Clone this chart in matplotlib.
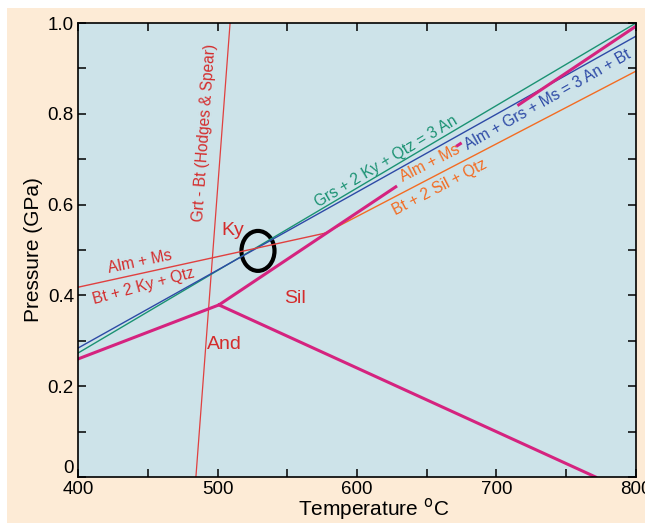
import matplotlib.pyplot as plt
from matplotlib.patches import Ellipse, Rectangle
from matplotlib.ticker import MultipleLocator

plt.rcParams['font.family'] = ['Liberation Sans', 'DejaVu Sans']

# --- Reaction boundaries (T in degC, P in GPa) ---
grt_bt_T = [484.5, 509]
grt_bt_P = [0.0, 1.0]

grs_ky_T = [400, 800]
grs_ky_P = [0.273, 1.0]

alm_grs_T = [400, 800]
alm_grs_P = [0.284, 0.971]

alm_ms_ky_T = [400, 577]
alm_ms_ky_P = [0.418, 0.537]

alm_ms_sil_T = [577, 800]
alm_ms_sil_P = [0.537, 0.894]

# Al2SiO5 triple point diagram
and_ky_T = [400, 501]
and_ky_P = [0.260, 0.379]

and_sil_T = [501, 771]
and_sil_P = [0.379, 0.0]

# Ky-Sil line is broken where the labels sit on it
ky_sil_T = [[501, 628.7], [671, 675], [715, 800]]
ky_sil_P = [[0.379, 0.641], [0.728, 0.736], [0.818, 0.993]]

x_ticks = [400, 500, 600, 700, 800]
y_ticks = [0, 0.2, 0.4, 0.6, 0.8, 1.0]
y_tick_labels = ['0', '0.2', '0.4', '0.6', '0.8', '1.0']

peach = '#fdebd6'
water = '#cde3e9'
red = '#e0403f'
red_txt = '#d42c2c'
green = '#1b9273'
blue = '#2d4aa6'
orange = '#f36c22'
magenta = '#d5237f'

fig = plt.figure(figsize=(6.45, 5.23), dpi=100, facecolor='white')
fig.patches.append(Rectangle((0.011, 0), 0.989, 0.985, transform=fig.transFigure,
                             facecolor=peach, edgecolor='none', zorder=-1))
ax = fig.add_axes([0.121, 0.088, 0.865, 0.868])
ax.set_facecolor(water)

ax.plot(grt_bt_T, grt_bt_P, color=red, lw=0.9)
ax.plot(grs_ky_T, grs_ky_P, color=green, lw=1.0)
ax.plot(alm_grs_T, alm_grs_P, color=blue, lw=1.0)
ax.plot(alm_ms_ky_T, alm_ms_ky_P, color=red, lw=1.0)
ax.plot(alm_ms_sil_T, alm_ms_sil_P, color=orange, lw=1.0)

ax.plot(and_ky_T, and_ky_P, color=magenta, lw=2.2)
ax.plot(and_sil_T, and_sil_P, color=magenta, lw=2.2)
for t, p in zip(ky_sil_T, ky_sil_P):
    ax.plot(t, p, color=magenta, lw=2.2, solid_capstyle='butt')

# labels on the reaction lines
lab = dict(ha='center', va='center', rotation_mode='anchor', fontsize=11.2)
ax.text(621, 0.696, 'Grs + 2 Ky + Qtz = 3 An', color=green, rotation=31, **lab)
ax.text(737, 0.830, 'Alm + Grs + Ms = 3 An + Bt', color=blue, rotation=29.5, **lab)
ax.text(652, 0.692, 'Alm + Ms', color=orange, rotation=27, **lab)
ax.text(659, 0.637, 'Bt + 2 Sil + Qtz', color=orange, rotation=27.5, **lab)
ax.text(444, 0.474, 'Alm + Ms', color=red_txt, rotation=12, **lab)
ax.text(447, 0.421, 'Bt + 2 Ky + Qtz', color=red_txt, rotation=15, **lab)
ax.text(491, 0.758, 'Grt - Bt (Hodges & Spear)', color=red_txt, rotation=86, **lab)

ax.text(511, 0.544, 'Ky', color=red_txt, fontsize=14, ha='center', va='center')
ax.text(555.6, 0.394, 'Sil', color=red_txt, fontsize=14, ha='center', va='center')
ax.text(505, 0.291, 'And', color=red_txt, fontsize=14, ha='center', va='center')

ax.add_patch(Ellipse((529, 0.498), 23.7, 0.088, fill=False, edgecolor='black', lw=3))

ax.set_xlim(400, 800)
ax.set_ylim(0, 1.0)
ax.set_xticks(x_ticks)
ax.set_yticks(y_ticks)
ax.set_yticklabels(y_tick_labels)
ax.xaxis.set_minor_locator(MultipleLocator(50))
ax.yaxis.set_minor_locator(MultipleLocator(0.1))
ax.tick_params(which='both', direction='in', top=True, right=True,
               length=6, width=1.1, labelsize=13.5, pad=3)
ax.get_yticklabels()[0].set_va('bottom')
for s in ax.spines.values():
    s.set_linewidth(1.2)

ax.set_xlabel('Temperature $^{\\rm o}$C', fontsize=15)
ax.xaxis.set_label_coords(0.529, -0.043)
ax.set_ylabel('Pressure (GPa)', fontsize=15, labelpad=3)

fig.savefig('out.png', dpi=100, facecolor=fig.get_facecolor())
